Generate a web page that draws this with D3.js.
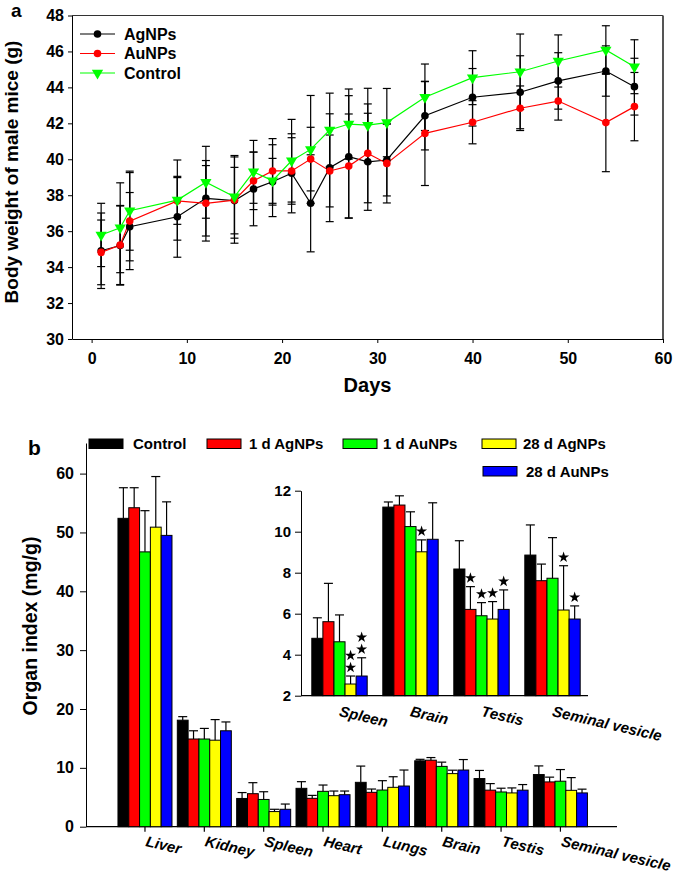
<!DOCTYPE html>
<html><head><meta charset="utf-8">
<script src="https://cdn.jsdelivr.net/npm/d3@7/dist/d3.min.js"></script>
<style>
body{margin:0;background:#fff}
svg{display:block}
text{font-family:Arial,"Liberation Sans",sans-serif;font-weight:bold;fill:#000}
</style>
</head><body>
<svg id="c" width="675" height="876"></svg>
<script>
// ---------- Panel a data ----------
const days = [1,3,4,9,12,15,17,19,21,23,25,27,29,31,35,40,45,49,54,57];
const agnps = [34.91,35.2,36.25,36.8,37.83,37.7,38.35,38.75,39.22,37.55,39.53,40.14,39.86,39.96,42.42,43.45,43.73,44.36,44.91,44.04];
const aunps = [34.82,35.23,36.56,37.68,37.55,37.73,38.8,39.35,39.35,40.01,39.35,39.62,40.33,39.77,41.44,42.06,42.84,43.24,42.04,42.93];
const control = [35.79,36.19,37.14,37.73,38.72,37.91,39.3,38.81,39.92,40.55,41.63,41.96,41.9,42.04,43.45,44.54,44.87,45.47,46.08,45.15];
const agnpsSD = [2.1,2.2,1.9,2.25,2.1,1.85,2.05,1.3,2.2,2.7,3.0,3.4,2.7,2.0,1.9,1.6,2.03,1.57,1.4,1.58];
const aunpsSD = [1.8,2.2,2.7,1.3,2.1,2.4,1.6,1.8,1.85,1.77,2.0,2.9,2.75,2.2,2.9,1.2,1.24,1.06,2.73,1.9];
const controlSD = [1.76,2.5,2.2,2.23,2.0,2.3,1.75,2.0,2.3,3.0,2.05,1.95,2.05,1.9,1.85,1.5,2.1,1.45,1.35,1.5];
const seriesA = ["AgNPs","AuNPs","Control"];
const xTicksA = [0,10,20,30,40,50,60];
const yTicksA = [30,32,34,36,38,40,42,44,46,48];

// ---------- Panel b data ----------
const organs = ["Liver","Kidney","Spleen","Heart","Lungs","Brain","Testis","Seminal vesicle"];
const groupsB = ["Control","1 d AgNPs","1 d AuNPs","28 d AgNPs","28 d AuNPs"];
const ctrlB  = [52.4,18.1,4.8,6.52,7.54,11.2,8.18,8.86];
const ag1B   = [54.2,14.9,5.61,4.82,5.84,11.3,6.21,7.61];
const au1B   = [46.7,14.9,4.63,6.01,6.23,10.25,5.9,7.73];
const ag28B  = [50.9,14.7,2.57,5.27,6.69,9.02,5.74,6.18];
const au28B  = [49.5,16.3,2.96,5.44,6.91,9.63,6.21,5.74];
const ctrlSD = [5.2,0.6,1.0,1.13,2.76,0.25,1.38,1.47];
const ag1SD  = [3.4,1.4,1.87,0.5,0.56,0.45,1.11,0.81];
const au1SD  = [7.0,1.8,1.31,1.07,1.59,0.72,0.64,1.98];
const ag28SD = [8.6,3.5,0.39,0.79,1.8,0.58,0.85,2.16];
const au28SD = [5.7,1.5,0.89,0.62,2.72,1.78,0.95,0.64];
const yTicksB = [0,10,20,30,40,50,60];
const insetOrgans = ["Spleen","Brain","Testis","Seminal vesicle"];
const yTicksInset = [2,4,6,8,10,12];
// number of significance stars per inset organ, per group
const starCounts = [[0,0,0,2,2],[0,0,0,1,0],[0,1,1,1,1],[0,0,0,1,1]];

// ---------- styles ----------
const colA = {AgNPs:"#000000", AuNPs:"#ff0000", Control:"#00ff00"};
const colB = ["#000000","#ff0000","#00ff00","#ffff00","#0000ff"];

const svg = d3.select("#c");

function styleAxis(g, size){
  g.attr("font-family", null).attr("font-size", null);
  g.selectAll("text").style("font-size", size + "px").style("font-weight","bold");
  g.selectAll("line").attr("stroke","#000");
  g.selectAll("path").attr("stroke","#000");
}

// ================= Panel a =================
const xA = d3.scaleLinear().domain([-2.06, 60]).range([72, 663]);
const yA = d3.scaleLinear().domain([30, 48]).range([339, 15.5]);
const gA = svg.append("g");

gA.append("line").attr("x1", xA(-2.06)).attr("x2", xA(60)).attr("y1", yA(48)).attr("y2", yA(48))
  .attr("stroke","#333").attr("stroke-width",1.2);
gA.append("line").attr("x1", xA(60)).attr("x2", xA(60)).attr("y1", yA(48)).attr("y2", yA(30))
  .attr("stroke","#555").attr("stroke-width",2);

gA.append("g").attr("transform", `translate(${xA(-2.06)},0)`)
  .call(d3.axisLeft(yA).tickValues(yTicksA).tickSize(4).tickPadding(4).tickSizeOuter(0))
  .call(g => styleAxis(g, 16));
gA.append("g").attr("transform", `translate(0,${yA(30)})`)
  .call(d3.axisBottom(xA).tickValues(xTicksA).tickSize(4).tickPadding(10).tickSizeOuter(0))
  .call(g => styleAxis(g, 16));

gA.append("text").attr("transform", `translate(18,172) rotate(-90)`)
  .attr("text-anchor","middle").style("font-size","19px").text("Body weight of male mice (g)");
gA.append("text").attr("x", (xA(-2.06)+xA(60))/2).attr("y", 392).attr("text-anchor","middle")
  .style("font-size","20px").text("Days");
gA.append("text").attr("x", 11).attr("y", 17).style("font-size","19px").text("a");

const dataA = {
  AgNPs: days.map((d,i)=>({d, v:agnps[i], s:agnpsSD[i]})),
  AuNPs: days.map((d,i)=>({d, v:aunps[i], s:aunpsSD[i]})),
  Control: days.map((d,i)=>({d, v:control[i], s:controlSD[i]}))
};
const capW = 4;
// error bars
seriesA.forEach(k => {
  const eg = gA.append("g").attr("stroke","#000").attr("stroke-width",1.2);
  dataA[k].forEach(p => {
    eg.append("line").attr("x1", xA(p.d)).attr("x2", xA(p.d)).attr("y1", yA(p.v - p.s)).attr("y2", yA(p.v + p.s));
    [p.v - p.s, p.v + p.s].forEach(e => eg.append("line").attr("x1", xA(p.d)-capW).attr("x2", xA(p.d)+capW)
      .attr("y1", yA(e)).attr("y2", yA(e)));
  });
});
const lineA = d3.line().x(p => xA(p.d)).y(p => yA(p.v));
seriesA.forEach(k => {
  gA.append("path").datum(dataA[k]).attr("d", lineA).attr("fill","none").attr("stroke", colA[k]).attr("stroke-width",1.2);
});
const tri = d3.symbol().type(d3.symbolTriangle).size(55);
function marker(g, k, x, y){
  if (k === "Control") {
    g.append("path").attr("d", tri()).attr("transform", `translate(${x},${y}) rotate(180)`).attr("fill", colA[k]);
  } else {
    g.append("circle").attr("cx", x).attr("cy", y).attr("r", 3.8).attr("fill", colA[k]);
  }
}
seriesA.forEach(k => { dataA[k].forEach(p => marker(gA, k, xA(p.d), yA(p.v))); });

// legend a
seriesA.forEach((k,i) => {
  const y = 34 + i*19.5;
  gA.append("line").attr("x1",80).attr("x2",115).attr("y1",y).attr("y2",y).attr("stroke",colA[k]).attr("stroke-width",1.2);
  marker(gA, k, 97.5, y);
  gA.append("text").attr("x",124).attr("y",y).attr("dy","0.36em").style("font-size","16px").text(k);
});

// ================= Panel b =================
const valsB = [ctrlB, ag1B, au1B, ag28B, au28B];
const sdsB = [ctrlSD, ag1SD, au1SD, ag28SD, au28SD];
const gB = svg.append("g");
const yB = d3.scaleLinear().domain([0, 65.2]).range([826.7, 443]);
const xB = d3.scaleBand().domain(organs).range([115.3, 590.1]).paddingInner(0.09).paddingOuter(0.045);
const xSub = d3.scaleBand().domain(groupsB).range([0, xB.bandwidth()]);

gB.append("g").attr("transform","translate(86,0)")
  .call(d3.axisLeft(yB).tickValues(yTicksB).tickSize(6).tickPadding(6).tickSizeOuter(0))
  .call(g => styleAxis(g, 16));
// x axis line and ticks
gB.append("line").attr("x1",86).attr("x2",617).attr("y1",yB(0)).attr("y2",yB(0)).attr("stroke","#000").attr("stroke-width",1.2);
organs.forEach(o => {
  const cx = xB(o) + xB.bandwidth()/2;
  gB.append("line").attr("x1",cx).attr("x2",cx).attr("y1",yB(0)).attr("y2",yB(0)+5).attr("stroke","#000").attr("stroke-width",1.2);
  gB.append("text").attr("transform",`translate(${cx},846) rotate(13)`).style("font-size","15px").style("font-style","italic").text(o);
});

function drawBars(g, xs, sub, ys, list, idxOf){
  list.forEach((o, oi) => {
    const j = idxOf(o);
    groupsB.forEach((gr, gi) => {
      const v = valsB[gi][j], s = sdsB[gi][j];
      const x0 = xs(o) + sub(gr), w = sub.bandwidth();
      g.append("rect").attr("x", x0).attr("y", ys(v)).attr("width", w).attr("height", ys(ys.domain()[0]) - ys(v))
        .attr("fill", colB[gi]).attr("stroke","#000").attr("stroke-width",1);
      const cx = x0 + w/2;
      g.append("line").attr("x1",cx).attr("x2",cx).attr("y1",ys(v)).attr("y2",ys(v+s)).attr("stroke","#000").attr("stroke-width",1.2);
      g.append("line").attr("x1",cx-4.5).attr("x2",cx+4.5).attr("y1",ys(v+s)).attr("y2",ys(v+s)).attr("stroke","#000").attr("stroke-width",1.2);
    });
  });
}
drawBars(gB, xB, xSub, yB, organs, o => organs.indexOf(o));

gB.append("text").attr("transform", `translate(37,626) rotate(-90)`).attr("text-anchor","middle")
  .style("font-size","19.5px").text("Organ index (mg/g)");
gB.append("text").attr("x", 28).attr("y", 455).style("font-size","21px").text("b");

// legend b
const legPos = [[89,439,133],[207,439,249],[343,439,383],[482,439,523],[483,466.5,526]];
groupsB.forEach((gr, gi) => {
  const [sx, sy, tx] = legPos[gi];
  gB.append("rect").attr("x",sx).attr("y",sy).attr("width",34).attr("height",9.5).attr("fill",colB[gi]).attr("stroke","#000").attr("stroke-width",1);
  gB.append("text").attr("x",tx).attr("y",sy+10).style("font-size","15px").text(gr);
});

// ---------- inset ----------
const gI = svg.append("g");
const yI = d3.scaleLinear().domain([2, 12]).range([695.7, 490.7]);
const xI = d3.scaleBand().domain(insetOrgans).range([304, 588]).paddingInner(0.22).paddingOuter(0.11);
const xISub = d3.scaleBand().domain(groupsB).range([0, xI.bandwidth()]);
gI.append("g").attr("transform","translate(301,0)")
  .call(d3.axisLeft(yI).tickValues(yTicksInset).tickSize(6).tickPadding(4).tickSizeOuter(0))
  .call(g => styleAxis(g, 15));
drawBars(gI, xI, xISub, yI, insetOrgans, o => organs.indexOf(o));
gI.append("line").attr("x1",301).attr("x2",588).attr("y1",yI(2)).attr("y2",yI(2)).attr("stroke","#000").attr("stroke-width",1.2);
const star = d3.symbol().type(d3.symbolStar).size(38);
insetOrgans.forEach((o, oi) => {
  const j = organs.indexOf(o);
  groupsB.forEach((gr, gi) => {
    const n = starCounts[oi][gi];
    const cx = xI(o) + xISub(gr) + xISub.bandwidth()/2;
    const top = yI(valsB[gi][j] + sdsB[gi][j]);
    for (let k = 0; k < n; k++) {
      gI.append("path").attr("d", star()).attr("transform", `translate(${cx},${top - 8.5 - k*12})`).attr("fill","#000");
    }
  });
  const cx = xI(o) + xI.bandwidth()/2;
  gI.append("text").attr("transform",`translate(${cx - 1},716) rotate(13)`).style("font-size","15px").style("font-style","italic").text(o);
});
</script>
</body></html>
